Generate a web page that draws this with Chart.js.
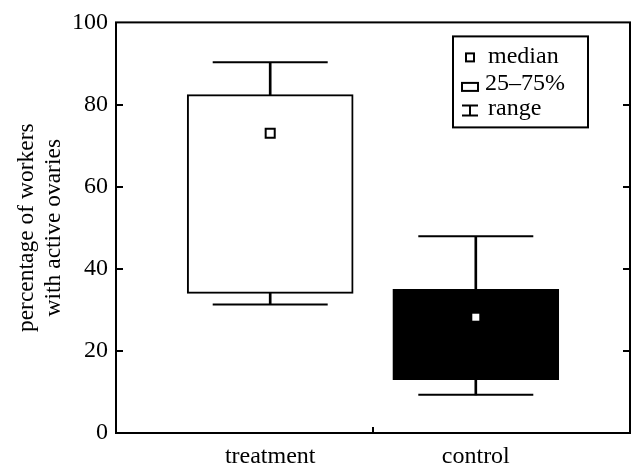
<!DOCTYPE html>
<html>
<head>
<meta charset="utf-8">
<script src="https://cdn.jsdelivr.net/npm/chart.js@4/dist/chart.umd.min.js"></script>
<style>
  html, body { margin: 0; padding: 0; background: #fff; }
  #wrap { width: 635px; height: 468px; }
</style>
</head>
<body>
<div id="wrap"><canvas id="c" width="635" height="468"></canvas></div>
<script>
// ---- data ----
const categories = ['treatment', 'control'];
const positions = [1, 2];
const rangeMin = [31.3, 9.3];
const q1 = [34.0, 13.0];
const medians = [73.0, 28.2];
const q3 = [82.4, 35.0];
const rangeMax = [90.3, 47.9];
const yTicks = [0, 20, 40, 60, 80, 100];
const legendLabels = ['median', '25\u201375%', 'range'];
const yTitle = ['percentage of workers', 'with active ovaries'];

const FONT = '"Liberation Serif", "Times New Roman", serif';

const boxData = positions.map((x, i) => ({ x, y: [q1[i], q3[i]] }));
const upperWhisker = positions.map((x, i) => ({ x, y: [q3[i], rangeMax[i]] }));
const lowerWhisker = positions.map((x, i) => ({ x, y: [rangeMin[i], q1[i]] }));
const capData = positions.flatMap((x, i) => [{ x, y: rangeMax[i] }, { x, y: rangeMin[i] }]);
const medianData = positions.map((x, i) => ({ x, y: medians[i] }));

const framePlugin = {
  id: 'frame',
  afterDraw(chart) {
    const { ctx, chartArea: a, scales } = chart;
    const ys = scales.y, xs = scales.x;
    ctx.save();
    ctx.strokeStyle = '#000';
    ctx.lineWidth = 2;
    ctx.strokeRect(a.left, a.top, a.right - a.left, a.bottom - a.top);
    // inward ticks on left & right
    ctx.beginPath();
    yTicks.slice(1, -1).forEach(v => {
      const py = Math.round(ys.getPixelForValue(v));
      ctx.moveTo(a.left, py); ctx.lineTo(a.left + 7, py);
      ctx.moveTo(a.right, py); ctx.lineTo(a.right - 7, py);
    });
    // middle x tick between categories
    const mx = Math.round(xs.getPixelForValue((positions[0] + positions[1]) / 2));
    ctx.moveTo(mx, a.bottom); ctx.lineTo(mx, a.bottom - 6);
    ctx.stroke();

    // legend
    const lx = a.right - 177, ly = a.top + 14, lw = 135, lh = 91;
    ctx.strokeRect(lx, ly, lw, lh);
    const sx = lx + 17; // symbol centre x
    ctx.strokeRect(sx - 4, ly + 17, 8, 8);
    ctx.strokeRect(sx - 8, ly + 46.5, 16, 8);
    ctx.beginPath();
    ctx.moveTo(sx - 8, ly + 69); ctx.lineTo(sx + 8, ly + 69);
    ctx.moveTo(sx, ly + 69); ctx.lineTo(sx, ly + 79);
    ctx.moveTo(sx - 8, ly + 79); ctx.lineTo(sx + 8, ly + 79);
    ctx.stroke();
    ctx.fillStyle = '#000';
    ctx.font = '24px ' + FONT;
    ctx.textAlign = 'left';
    ctx.textBaseline = 'alphabetic';
    ctx.fillText(legendLabels[0], lx + 35, ly + 27);
    ctx.fillText(legendLabels[1], lx + 32, ly + 54);
    ctx.fillText(legendLabels[2], lx + 35, ly + 79);
    ctx.restore();
  }
};

new Chart(document.getElementById('c'), {
  type: 'bar',
  data: {
    datasets: [
      {
        type: 'scatter', data: medianData, order: 0, clip: false,
        pointStyle: 'rect', radius: [6.4, 4.95],
        backgroundColor: '#fff', borderColor: ['#000', '#fff'], borderWidth: [2, 0]
      },
      {
        type: 'bar', data: boxData, order: 1, grouped: false,
        backgroundColor: ['#fff', '#000'], borderColor: '#000', borderWidth: 2,
        borderSkipped: false, barThickness: 166
      },
      {
        type: 'bar', data: upperWhisker, order: 2, grouped: false,
        backgroundColor: '#000', borderWidth: 0, barThickness: 2
      },
      {
        type: 'bar', data: lowerWhisker, order: 2, grouped: false,
        backgroundColor: '#000', borderWidth: 0, barThickness: 2
      },
      {
        type: 'scatter', data: capData, order: 2, clip: false,
        pointStyle: 'line', radius: 57.5, borderColor: '#000', borderWidth: 2
      }
    ]
  },
  options: {
    responsive: false,
    animation: false,
    devicePixelRatio: 1,
    events: [],
    layout: { autoPadding: false, padding: { top: 20, right: 5, left: 0, bottom: 0 } },
    plugins: { legend: { display: false }, tooltip: { enabled: false } },
    scales: {
      x: {
        type: 'linear', min: 0.25, max: 2.75, offset: false,
        grid: { display: false, drawTicks: false, offset: false }, border: { display: false },
        afterBuildTicks: s => { s.ticks = positions.map(v => ({ value: v })); },
        afterFit: s => { s.height = 35; },
        ticks: {
          color: '#000', padding: 9,
          font: { family: FONT, size: 24 },
          callback: v => categories[positions.indexOf(v)] ?? ''
        }
      },
      y: {
        min: 0, max: 100,
        grid: { display: false, drawTicks: false }, border: { display: false },
        afterBuildTicks: s => { s.ticks = yTicks.map(v => ({ value: v })); },
        afterFit: s => { s.width = 116; },
        ticks: { color: '#000', padding: 8, font: { family: FONT, size: 24 } },
        title: {
          display: true, text: yTitle, color: '#000',
          font: { family: FONT, size: 23.5, lineHeight: 1.12 },
          padding: { top: 14, bottom: 0 }
        }
      }
    }
  },
  plugins: [framePlugin]
});
</script>
</body>
</html>
